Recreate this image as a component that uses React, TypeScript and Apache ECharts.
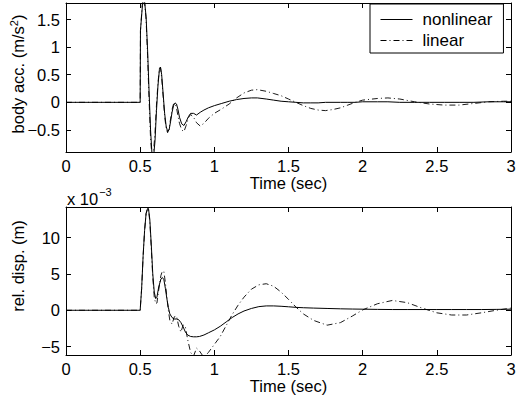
import React, { useEffect, useRef } from "react";
import * as echarts from "echarts";

// Body acceleration (m/s^2)
const accTime = [0, 0.5, 0.502, 0.515, 0.527, 0.54, 0.55, 0.56, 0.57, 0.58, 0.59, 0.6, 0.61, 0.62, 0.63, 0.637, 0.645, 0.655, 0.665, 0.675, 0.685, 0.695, 0.705, 0.715, 0.725, 0.735, 0.745, 0.755, 0.765, 0.78, 0.795, 0.81, 0.825, 0.84, 0.86, 0.88, 0.905, 0.93, 0.96, 1.0, 1.05, 1.1, 1.15, 1.2, 1.25, 1.29, 1.35, 1.4, 1.45, 1.5, 1.55, 1.6, 1.65, 1.7, 1.75, 1.8, 1.85, 1.9, 1.95, 2.0, 2.1, 2.17, 2.25, 2.35, 2.45, 2.55, 2.65, 2.75, 2.85, 2.95, 3.0];
const accNonlinear = [0, 0, 1.3, 1.75, 1.9, 1.55, 0.95, 0.2, -0.5, -0.95, -1.0, -0.7, -0.15, 0.3, 0.6, 0.64, 0.5, 0.15, -0.2, -0.43, -0.53, -0.5, -0.35, -0.18, -0.06, -0.01, -0.03, -0.13, -0.27, -0.39, -0.42, -0.35, -0.26, -0.2, -0.2, -0.23, -0.18, -0.14, -0.1, -0.06, -0.02, 0.02, 0.05, 0.07, 0.08, 0.08, 0.06, 0.04, 0.02, 0.01, 0.0, -0.01, -0.01, -0.01, 0.0, 0.0, 0.0, 0.0, 0.0, 0.01, 0.01, 0.01, 0.0, 0.0, 0.0, 0.0, 0.0, 0.0, 0.01, 0.01, 0.01];
const accLinear = [0, 0, 1.3, 1.8, 1.9, 1.5, 0.85, 0.05, -0.65, -1.0, -0.9, -0.55, -0.05, 0.35, 0.62, 0.63, 0.45, 0.1, -0.25, -0.47, -0.55, -0.48, -0.3, -0.13, -0.03, -0.02, -0.1, -0.25, -0.38, -0.5, -0.53, -0.42, -0.28, -0.22, -0.27, -0.37, -0.43, -0.38, -0.29, -0.2, -0.12, -0.03, 0.08, 0.17, 0.22, 0.23, 0.2, 0.16, 0.12, 0.06, 0.0, -0.06, -0.11, -0.14, -0.15, -0.13, -0.1, -0.05, 0.0, 0.04, 0.07, 0.08, 0.06, 0.01, -0.03, -0.05, -0.05, -0.02, 0.01, 0.02, 0.02];

// Relative displacement (x 10^-3 m)
const dispTime = [0, 0.5, 0.51, 0.52, 0.53, 0.54, 0.55, 0.556, 0.565, 0.575, 0.585, 0.595, 0.605, 0.613, 0.625, 0.64, 0.65, 0.66, 0.67, 0.68, 0.69, 0.7, 0.715, 0.73, 0.745, 0.76, 0.775, 0.79, 0.805, 0.82, 0.84, 0.86, 0.88, 0.9, 0.93, 0.96, 1.0, 1.04, 1.08, 1.12, 1.16, 1.2, 1.25, 1.3, 1.35, 1.4, 1.45, 1.5, 1.55, 1.6, 1.67, 1.76, 1.85, 1.93, 2.0, 2.1, 2.2, 2.3, 2.4, 2.5, 2.6, 2.7, 2.8, 2.9, 3.0];
const dispNonlinear = [0, 0, 3, 7.5, 11, 13.3, 14.0, 14.0, 12.5, 9, 5, 2.5, 1.6, 1.8, 3.2, 4.3, 4.5, 4.2, 3.0, 1.6, 0.4, -0.5, -1.0, -1.2, -1.2, -1.3, -1.7, -2.3, -3.0, -3.4, -3.6, -3.65, -3.65, -3.6, -3.4, -3.1, -2.7, -2.2, -1.6, -1.0, -0.5, -0.1, 0.25, 0.5, 0.6, 0.6, 0.55, 0.48, 0.4, 0.35, 0.3, 0.25, 0.2, 0.17, 0.15, 0.12, 0.1, 0.1, 0.1, 0.1, 0.1, 0.1, 0.1, 0.12, 0.15];
const dispLinear = [0, 0, 3, 7.5, 11, 13.3, 14.0, 13.9, 12.2, 8.5, 4.5, 1.8, 0.9, 1.0, 2.8, 4.8, 5.4, 5.3, 3.8, 1.8, 0.0, -1.4, -1.9, -0.9, -0.8, -2.2, -3.0, -2.0, -2.3, -4.0, -5.8, -6.3, -5.2, -5.6, -6.5, -5.8, -4.7, -3.6, -2.1, -0.6, 0.7, 1.8, 2.9, 3.5, 3.65, 3.3, 2.5, 1.5, 0.45, -0.5, -1.4, -2.05, -1.7, -0.8, 0.05, 0.9, 1.35, 1.05, 0.3, -0.35, -0.65, -0.65, -0.35, 0.0, 0.3];

const FONT = "'Liberation Sans', Arial, Helvetica, sans-serif";
const FS = 16.5;
const DASH_DOT = [6, 3, 1, 3];

const zip = (xs: number[], ys: number[]) => xs.map((x, i) => [x, ys[i]]);
const minus = (v: number) => String(v).replace("-", "\u2212");

function xAxes(grid: number) {
  const common = {
    type: "value",
    gridIndex: grid,
    min: 0,
    max: 3,
    interval: 0.5,
    splitLine: { show: false },
    axisLine: { show: true, onZero: false, lineStyle: { color: "#000", width: 1 } },
    axisTick: { show: true, inside: true, length: 5, lineStyle: { color: "#000", width: 1 } },
  };
  return [
    {
      ...common,
      position: "bottom",
      axisLabel: { color: "#000", fontSize: FS, margin: 5, fontFamily: FONT, formatter: minus },
      name: "Time (sec)",
      nameLocation: "middle",
      nameGap: 22,
      nameMoveOverlap: false,
      nameTextStyle: { color: "#000", fontSize: FS, fontFamily: FONT },
    },
    { ...common, position: "top", axisLabel: { show: false } },
  ];
}

function yAxes(grid: number, min: number, max: number, split: number, name: string, pad: number[]) {
  const common = {
    type: "value",
    gridIndex: grid,
    min,
    max,
    splitNumber: split,
    splitLine: { show: false },
    axisLine: { show: true, onZero: false, lineStyle: { color: "#000", width: 1 } },
    axisTick: { show: true, inside: true, length: 5, lineStyle: { color: "#000", width: 1 } },
  };
  return [
    {
      ...common,
      position: "left",
      axisLabel: {
        color: "#000",
        fontSize: FS,
        margin: 6,
        fontFamily: FONT,
        showMinLabel: false,
        showMaxLabel: false,
        formatter: minus,
      },
      name,
      nameLocation: "middle",
      nameGap: 40,
      nameMoveOverlap: false,
      nameTextStyle: { color: "#000", fontSize: FS, fontFamily: FONT, padding: pad },
    },
    { ...common, position: "right", axisLabel: { show: false } },
  ];
}

export default function App() {
  const ref = useRef<HTMLDivElement>(null);
  useEffect(() => {
    if (!ref.current) return;
    const chart = echarts.init(ref.current, null, { renderer: "svg" });
    const line = (name: string, data: number[][], xi: number, yi: number, dashed: boolean) => ({
      type: "line",
      name,
      data,
      xAxisIndex: xi,
      yAxisIndex: yi,
      symbol: "none",
      clip: true,
      lineStyle: { color: "#000", width: dashed ? 0.9 : 1, type: dashed ? DASH_DOT : "solid" },
      itemStyle: { color: "#000" },
      emphasis: { disabled: true },
    });
    chart.setOption({
      animation: false,
      backgroundColor: "#fff",
      textStyle: { fontFamily: FONT },
      grid: [
        { left: 66, top: 3, width: 445, height: 149, containLabel: false, outerBoundsMode: "none" },
        { left: 66, top: 207, width: 445, height: 148, containLabel: false, outerBoundsMode: "none" },
      ],
      legend: {
        data: ["nonlinear", "linear"],
        orient: "vertical",
        left: 370,
        top: 4,
        padding: [7, 11, 4, 10],
        itemWidth: 32,
        itemHeight: 16,
        itemGap: 4,
        backgroundColor: "#fff",
        borderColor: "#000",
        borderWidth: 1,
        lineStyle: { width: 1 },
        itemStyle: { opacity: 0, color: "rgba(0,0,0,0)", borderWidth: 0 },
        textStyle: { color: "#000", fontSize: 17, fontFamily: FONT, padding: [0, 0, 0, 5], lineHeight: 16 },
      },
      xAxis: [...xAxes(0), ...xAxes(1)],
      yAxis: [
        ...yAxes(0, -0.9, 1.8, 5, "", [0, 0, 0, 0]),
        ...yAxes(1, -6.15, 14.2, 4, "rel. disp. (m)", [0, 0, 0, 30]),
      ],
      graphic: [
        {
          type: "text",
          x: 18,
          y: 74,
          rotation: Math.PI / 2,
          style: {
            text: "{b|body acc. (m/s}{s|2}{b|)}",
            align: "center",
            verticalAlign: "middle",
            rich: {
              b: { fontSize: FS, fontFamily: FONT, fill: "#000" },
              s: { fontSize: 11, fontFamily: FONT, fill: "#000", padding: [0, 0, 8, 0] },
            },
          },
        },
        {
          type: "text",
          left: 67,
          top: 186,
          style: {
            text: "{b|x 10}{s|\u22123}",
            rich: {
              b: { fontSize: FS, fontFamily: FONT, fill: "#000", padding: [8, 0, 0, 0] },
              s: { fontSize: 11, fontFamily: FONT, fill: "#000", padding: [0, 0, 6, 1] },
            },
          },
        },
      ],
      series: [
        line("nonlinear", zip(accTime, accNonlinear), 0, 0, false),
        line("linear", zip(accTime, accLinear), 0, 0, true),
        line("nonlinear", zip(dispTime, dispNonlinear), 2, 2, false),
        line("linear", zip(dispTime, dispLinear), 2, 2, true),
      ],
    });
    return () => chart.dispose();
  }, []);
  return (
    <div
      ref={ref}
      style={{ position: "fixed", left: 0, top: 0, width: 520, height: 397, background: "#fff" }}
    />
  );
}
